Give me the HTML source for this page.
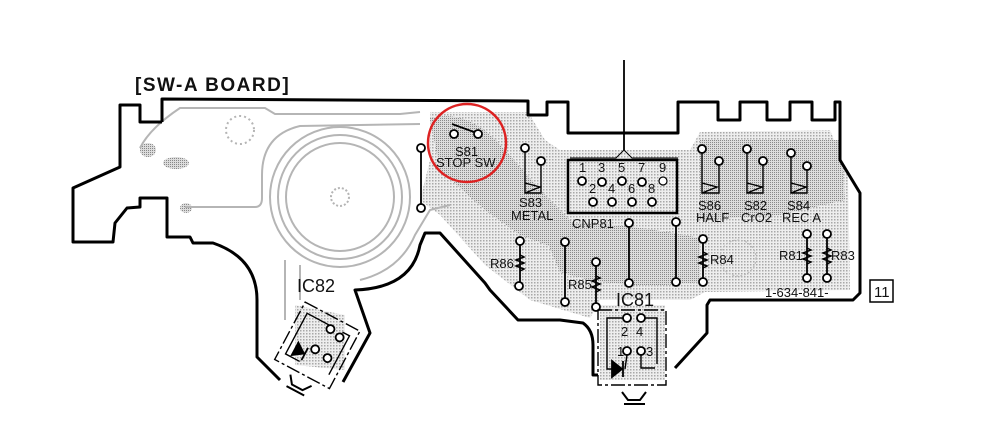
<!DOCTYPE html>
<html><head><meta charset="utf-8"><style>
html,body{margin:0;padding:0;background:#fff;}
svg{display:block;}
text{font-family:"Liberation Sans Narrow","Liberation Sans",sans-serif;fill:#111;}
</style></head><body>
<svg width="990" height="435" viewBox="0 0 990 435" xmlns="http://www.w3.org/2000/svg">
<defs>
<pattern id="dots" width="3" height="3" patternUnits="userSpaceOnUse">
<rect width="3" height="3" fill="#eeeeee"/><rect width="1.5" height="1.5" fill="#a8a8a8"/>
</pattern>
<pattern id="dots2" width="2" height="2" patternUnits="userSpaceOnUse">
<rect width="2" height="2" fill="#dcdcdc"/><rect width="1" height="1" fill="#888"/>
</pattern>
</defs>
<text x="135" y="91" font-size="19" font-weight="bold" letter-spacing="1.5" style="font-family:'Liberation Sans',sans-serif">[SW-A BOARD]</text>

<g fill="url(#dots)">
<path d="M430 112 L528 112 L545 140 L560 150 L690 150 L700 132 L830 130 L848 175 L850 290 L705 292 L690 300 L600 300 L590 318 L530 300 L485 265 L440 215 L420 200 L430 160 Z"/>
<path d="M600 305 L665 305 L665 380 L600 380 Z"/>
<path d="M295 305 L345 315 L345 370 L295 365 Z"/>
</g>
<g fill="url(#dots2)">
<path d="M430 118 Q470 108 505 150 L545 195 L580 230 L560 250 L520 235 L485 210 L440 170 Z"/>
<path d="M540 225 Q600 218 700 238 L700 282 Q620 292 560 272 Z"/>
<path d="M700 140 L840 140 L845 200 L780 215 L700 220 Z"/>
<ellipse cx="148" cy="150" rx="8" ry="7"/><ellipse cx="176" cy="163" rx="13" ry="6"/>
<ellipse cx="186" cy="208" rx="6" ry="5"/>
</g>
<g fill="none" stroke="#bbb" stroke-width="1.2">
<circle cx="738" cy="258" r="18" stroke-dasharray="2 2"/>
</g>
<g fill="none" stroke="#b5b5b5" stroke-width="2">
<circle cx="340" cy="197" r="54"/><circle cx="340" cy="197" r="62"/><circle cx="340" cy="197" r="70"/>
<circle cx="340" cy="197" r="9" stroke-dasharray="2 2"/>
<circle cx="240" cy="130" r="14" stroke-dasharray="2 3"/>
<path d="M140 148 Q150 128 180 108 L265 108 L275 114 L400 114 L420 112"/>
<path d="M185 207 L255 207 Q262 207 262 198 L262 175 Q262 135 300 126 L420 124"/>
<path d="M300 265 L300 300 M285 260 L285 320"/>
<path d="M360 280 Q400 270 415 235 L430 210 L450 205"/>
</g>

<g fill="none" stroke="#000" stroke-width="3" stroke-linejoin="round">
<path d="M162 122 L162 99 L528 101 L528 115 L547 115 L547 102 L568 102 L568 133 L678 133 L678 102 L718 102 L718 120 L740 120 L740 102 L767 102 L767 120 L790 120 L790 102 L812 102 L812 120 L835 120 L835 102 L840 102 L840 160 L860 193 L860 293 L853 300 L710 300 L707 305 L707 333 L675 368"/>
<path d="M162 122 L140 122 L140 105 L120 105 L120 167 L73 188 L73 242 L113 242 L115 223 L127 208 L140 207 L140 198 L167 198 L167 237 L190 237 L193 243 L213 243 Q257 258 257 300 L257 357 L280 380"/>
<path d="M343 382 L370 333 L355 290 Q412 288 420 245 L425 233 L440 233 L485 283 L490 290 L518 320 L560 320 L583 323 Q593 330 593 345 L593 375 L598 375"/>
</g>
<circle cx="467" cy="143" r="39" fill="none" stroke="#d22" stroke-width="2.5"/>

<g stroke="#000" stroke-width="1.8" fill="#fff">
<line x1="421" y1="148" x2="421" y2="208"/>
<line x1="624" y1="60" x2="624" y2="150"/>
<path d="M624 150 L616 158 L570 158 M624 150 L632 158 L678 158" fill="none" stroke-width="1"/>
<line x1="629" y1="223" x2="629" y2="283"/>
<line x1="676" y1="222" x2="676" y2="282"/>
<line x1="565" y1="242" x2="565" y2="302"/>
<line x1="520" y1="241" x2="520" y2="286"/>
<line x1="596" y1="262" x2="596" y2="307"/>
<line x1="703" y1="239" x2="703" y2="282"/>
<line x1="807" y1="234" x2="807" y2="278"/>
<line x1="827" y1="234" x2="827" y2="278"/>
<line x1="452" y1="124" x2="474" y2="132"/>
<g fill="none" stroke-width="1.4">
<path d="M525 148 L525 193 L540 187 L525 183 M541 161 L541 193 L525 193"/>
<path d="M702 149 L702 193 L717 187 L702 183 M719 161 L719 193 L702 193"/>
<path d="M747 149 L747 193 L762 187 L747 183 M763 161 L763 193 L747 193"/>
<path d="M791 153 L791 193 L806 187 L791 183 M807 166 L807 193 L791 193"/>
</g>
<rect x="568" y="160" width="109" height="53" fill="none" stroke-width="2.5"/>
<g>
<circle cx="454" cy="134" r="4"/><circle cx="478" cy="134" r="4"/>
<circle cx="421" cy="148" r="4"/><circle cx="421" cy="208" r="4"/>
<circle cx="525" cy="148" r="4"/><circle cx="541" cy="161" r="4"/>
<circle cx="582" cy="181" r="4"/><circle cx="602" cy="182" r="4"/><circle cx="622" cy="181" r="4"/><circle cx="642" cy="182" r="4"/><circle cx="663" cy="181" r="4" stroke-width="1.2"/>
<circle cx="593" cy="202" r="4"/><circle cx="612" cy="202" r="4"/><circle cx="632" cy="202" r="4"/><circle cx="652" cy="202" r="4"/>
<circle cx="629" cy="223" r="4"/><circle cx="629" cy="283" r="4"/>
<circle cx="676" cy="222" r="4"/><circle cx="676" cy="282" r="4"/>
<circle cx="565" cy="242" r="4"/><circle cx="565" cy="302" r="4"/>
<circle cx="520" cy="241" r="4"/><circle cx="519" cy="286" r="4"/>
<circle cx="596" cy="262" r="4"/><circle cx="596" cy="307" r="4"/>
<circle cx="702" cy="149" r="4"/><circle cx="719" cy="161" r="4"/>
<circle cx="747" cy="149" r="4"/><circle cx="763" cy="161" r="4"/>
<circle cx="791" cy="153" r="4"/><circle cx="807" cy="166" r="4"/>
<circle cx="703" cy="239" r="4"/><circle cx="703" cy="282" r="4"/>
<circle cx="807" cy="234" r="4"/><circle cx="807" cy="278" r="4"/>
<circle cx="827" cy="234" r="4"/><circle cx="827" cy="278" r="4"/>
</g>
<g fill="none" stroke-width="1.5">
<path d="M520 255 l4 2 -8 3 8 3 -8 3 8 3 -4 2"/>
<path d="M596 276 l4 2 -8 3 8 3 -8 3 8 3 -4 2"/>
<path d="M703 252 l4 2 -8 3 8 3 -8 3 8 3 -4 2"/>
<path d="M807 248 l4 2 -8 3 8 3 -8 3 8 3 -4 2"/>
<path d="M827 248 l4 2 -8 3 8 3 -8 3 8 3 -4 2"/>
</g>
<rect x="598" y="310" width="68" height="75" fill="none" stroke-width="1.4" stroke-dasharray="14 3 3 3"/>
<path d="M627 318 L607 318 L607 369 L623 369 M641 318 L657 318 L657 364" fill="none" stroke-width="1.4"/>
<circle cx="627" cy="318" r="4"/><circle cx="641" cy="318" r="4"/>
<circle cx="627" cy="351" r="4"/><circle cx="641" cy="351" r="4"/>
<path d="M612 361 L612 377 L622 369 Z" fill="#000"/><line x1="623" y1="361" x2="623" y2="377"/>
<path d="M627 355 L625 369 M641 355 L641 368 L655 368" fill="none" stroke-width="1.4"/>
<path d="M622 392 L628 400 L640 400 L646 392 M624 404 L645 404" fill="none" stroke-width="2"/>
<g transform="rotate(28 318 344)">
<rect x="287" y="313" width="62" height="65" fill="none" stroke-width="1.4" stroke-dasharray="14 3 3 3"/>
<path d="M322 322 L294 322 L294 368 L310 368 M334 322 L342 322 L342 366" fill="none" stroke-width="1.4"/>
<circle cx="322" cy="325" r="4"/><circle cx="334" cy="328" r="4"/>
<circle cx="318" cy="350" r="4"/><circle cx="333" cy="352" r="4"/>
<path d="M300 352 L300 366 L310 359 Z" fill="#000"/><line x1="311" y1="352" x2="311" y2="366"/>
<path d="M308 384 L314 392 L326 392 L332 384 M310 396 L330 396" fill="none" stroke-width="2"/>
</g>
</g>

<g font-size="13">
<text x="455" y="156">S81</text>
<text x="436" y="167">STOP SW</text>
<text x="519" y="207">S83</text>
<text x="511" y="220">METAL</text>
<text x="572" y="228">CNP81</text>
<text x="579" y="172">1</text><text x="598" y="172">3</text><text x="618" y="172">5</text><text x="638" y="172">7</text><text x="659" y="172">9</text>
<text x="589" y="193">2</text><text x="608" y="193">4</text><text x="628" y="193">6</text><text x="648" y="193">8</text>
<text x="698" y="210">S86</text><text x="696" y="222">HALF</text>
<text x="744" y="210">S82</text><text x="741" y="222">CrO2</text>
<text x="787" y="210">S84</text><text x="782" y="222">REC A</text>
<text x="490" y="268">R86</text>
<text x="568" y="289">R85</text>
<text x="710" y="264">R84</text>
<text x="779" y="260">R81</text>
<text x="831" y="260">R83</text>
<text x="765" y="297">1-634-841-</text>
<text x="616" y="306" font-size="18">IC81</text>
<text x="297" y="292" font-size="18">IC82</text>
<text x="621" y="336">2</text><text x="636" y="336">4</text>
<text x="617" y="356">1</text><text x="646" y="356">3</text>
</g>
<rect x="870" y="280" width="23" height="22" fill="none" stroke="#000" stroke-width="1.5"/>
<text x="874" y="297" font-size="15">11</text>
</svg>
</body></html>
